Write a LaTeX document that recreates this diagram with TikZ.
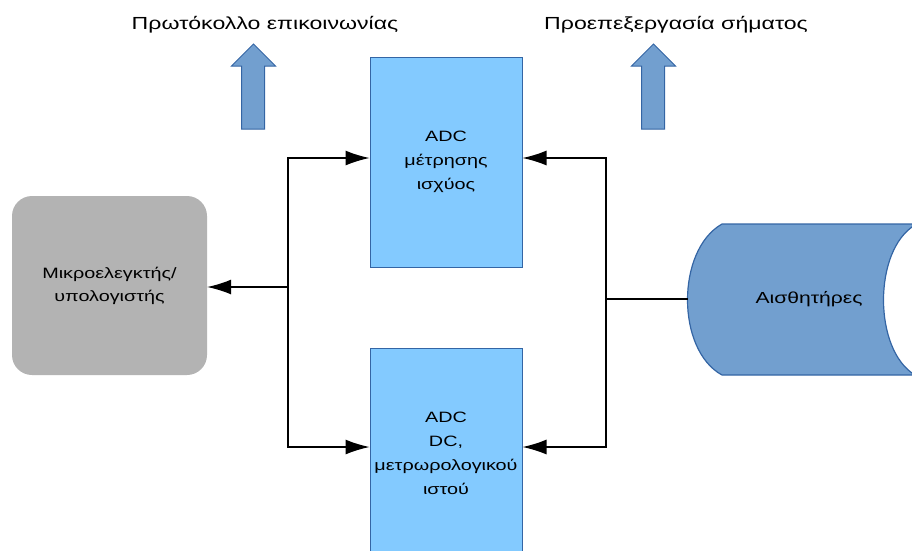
\documentclass[tikz,border=0pt]{standalone}
\usepackage{fontspec}
\setmainfont[FakeStretch=1.32]{Liberation Sans}
\usepackage{xcolor}
\usetikzlibrary{arrows.meta}

\definecolor{adcfill}{HTML}{83CAFF}
\definecolor{boxline}{HTML}{3465A4}
\definecolor{sensfill}{HTML}{729FCF}
\definecolor{mcufill}{HTML}{B3B3B3}

\begin{document}
\begin{tikzpicture}[x=1pt, y=-1pt,
    adcbox/.style={draw=boxline, fill=adcfill, line width=1pt, minimum width=152pt, minimum height=210pt, align=center, font=\fontsize{15}{24}\selectfont},
    conn/.style={line width=1.3pt},
    arr/.style={conn, -{Latex[length=24pt, width=15pt]}},
    caption/.style={font=\fontsize{17.5}{20}\selectfont, anchor=base},
    upflow/.style={draw=boxline, fill=sensfill, line width=1pt}]
    \useasboundingbox (0,0) rectangle (912,550);

    % Top captions with their block arrows
    \node[caption] (proto) at (265,29) {Πρωτόκολλο επικοινωνίας};
    \node[caption] (prep) at (676,29) {Προεπεξεργασία σήματος};
    \foreach \cx in {253.5, 653.5}
        \draw[upflow, shift={(\cx,0)}] (-12,129) -- (-12,66) -- (-22,66) -- (0,44) -- (22,66) -- (11,66) -- (11,129) -- cycle;

    % The two converters
    \node[adcbox] (adcP) at (446,162) {ADC\\μέτρησης\\ισχύος};
    \node[adcbox] (adcM) at (446,453) {ADC\\DC,\\μετρωρολογικού\\ιστού};

    % Microcontroller on the left
    \node[fill=mcufill, rounded corners=20pt, minimum width=195pt, minimum height=179pt, align=center, font=\fontsize{15}{23}\selectfont] (mcu) at (109.5,285.5) {Μικροελεγκτής/\\υπολογιστής};

    % Sensors drawn as a stored-data block
    \filldraw[draw=boxline, fill=sensfill, line width=1.2pt] (722,224) -- (915,224) -- (915,225)
        .. controls (873,250) and (873,350) .. (915,375) -- (722,375)
        .. controls (676,350) and (676,250) .. (722,224) -- cycle;
    \node[font=\fontsize{16}{18}\selectfont] (sens) at (809,299) {Αισθητήρες};
    \coordinate (sensIn) at (687.5,299);

    % Bus junctions
    \coordinate (jl) at (288,287);
    \coordinate (jr) at (606,299);

    % Connectors
    \draw[arr] (jl) |- ([yshift=4pt]adcP.west);
    \draw[arr] (jl) |- ([yshift=6pt]adcM.west);
    \draw[arr] (jl) -- (jl -| mcu.east);
    \draw[conn] (sensIn) -- (jr);
    \draw[arr] (jr) |- ([yshift=4pt]adcP.east);
    \draw[arr] (jr) |- ([yshift=6pt]adcM.east);
\end{tikzpicture}
\end{document}
